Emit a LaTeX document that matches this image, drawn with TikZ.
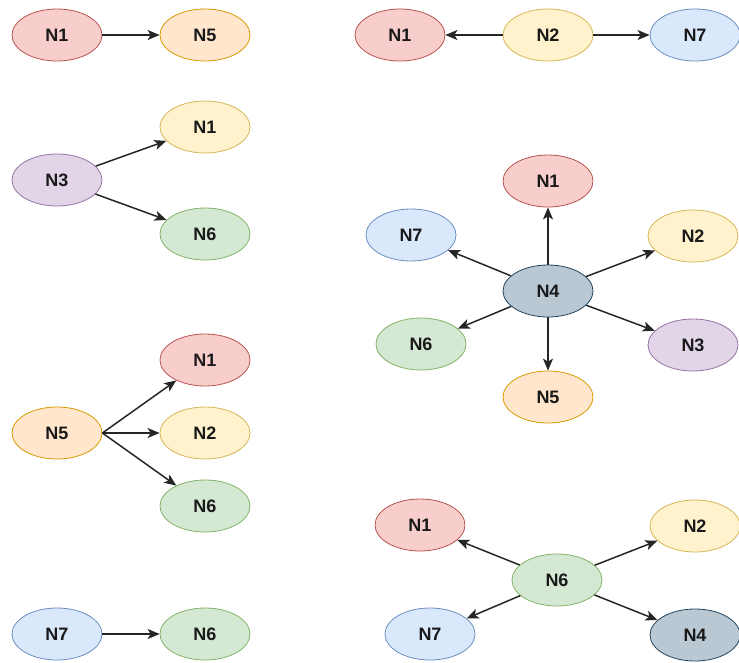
\documentclass[tikz,border=0pt]{standalone}
\usepackage{fontspec}
\setmainfont{Liberation Sans}
\usetikzlibrary{shapes.geometric,arrows.meta}
\definecolor{redF}{HTML}{F8CECC}\definecolor{redS}{HTML}{B85450}
\definecolor{yelF}{HTML}{FFF2CC}\definecolor{yelS}{HTML}{D6B656}
\definecolor{oraF}{HTML}{FFE6CC}\definecolor{oraS}{HTML}{D79B00}
\definecolor{bluF}{HTML}{DAE8FC}\definecolor{bluS}{HTML}{6C8EBF}
\definecolor{greF}{HTML}{D5E8D4}\definecolor{greS}{HTML}{82B366}
\definecolor{purF}{HTML}{E1D5E7}\definecolor{purS}{HTML}{9673A6}
\definecolor{darF}{HTML}{BAC8D3}\definecolor{darS}{HTML}{23445D}
\tikzset{
  nd/.style={ellipse, minimum width=90pt, minimum height=52pt, inner sep=0pt, line width=0.8pt, font=\fontsize{18}{18}\selectfont\bfseries, text=black!90},
  rd/.style={nd, fill=redF, draw=redS},
  yl/.style={nd, fill=yelF, draw=yelS},
  or/.style={nd, fill=oraF, draw=oraS},
  bl/.style={nd, fill=bluF, draw=bluS},
  gr/.style={nd, fill=greF, draw=greS},
  pu/.style={nd, fill=purF, draw=purS},
  dk/.style={nd, fill=darF, draw=darS},
  ar/.style={-{Stealth[length=12pt,width=10pt,inset=3pt]}, line width=1.5pt, draw=black!85},
}
\begin{document}
\begin{tikzpicture}[x=1pt,y=-1pt]
\useasboundingbox (0,0) rectangle (739,662);
% group 1
\node[rd] (a1) at (57,35) {N1};
\node[or] (a5) at (205,35) {N5};
\draw[ar] (a1) -- (a5);
% group 2
\node[rd] (b1) at (400,35) {N1};
\node[yl] (b2) at (548,35) {N2};
\node[bl] (b7) at (695,35) {N7};
\draw[ar] (b2) -- (b1);
\draw[ar] (b2) -- (b7);
% group 3
\node[pu] (c3) at (57,180) {N3};
\node[yl] (c1) at (205,127) {N1};
\node[gr] (c6) at (205,234) {N6};
\draw[ar] (c3) -- (c1);
\draw[ar] (c3) -- (c6);
% group 4 star
\node[dk] (d4) at (548,291) {N4};
\node[rd] (d1) at (548,181) {N1};
\node[bl] (d7) at (411,235) {N7};
\node[yl] (d2) at (693,236) {N2};
\node[gr] (d6) at (421,344) {N6};
\node[pu] (d3) at (693,345) {N3};
\node[or] (d5) at (548,397) {N5};
\draw[ar] (d4) -- (d1);
\draw[ar] (d4) -- (d7);
\draw[ar] (d4) -- (d2);
\draw[ar] (d4) -- (d6);
\draw[ar] (d4) -- (d3);
\draw[ar] (d4) -- (d5);
% group 5
\node[or] (e5) at (57,433) {N5};
\node[rd] (e1) at (205,360) {N1};
\node[yl] (e2) at (205,433) {N2};
\node[gr] (e6) at (205,506) {N6};
\draw[ar] (e5.east) -- (e1);
\draw[ar] (e5.east) -- (e2);
\draw[ar] (e5.east) -- (e6);
% group 6
\node[gr] (f6) at (557,580) {N6};
\node[rd] (f1) at (420,525) {N1};
\node[yl] (f2) at (695,526) {N2};
\node[bl] (f7) at (430,634) {N7};
\node[dk] (f4) at (695,635) {N4};
\draw[ar] (f6) -- (f1);
\draw[ar] (f6) -- (f2);
\draw[ar] (f6) -- (f7);
\draw[ar] (f6) -- (f4);
% group 7
\node[bl] (g7) at (57,634) {N7};
\node[gr] (g6) at (205,634) {N6};
\draw[ar] (g7) -- (g6);
\end{tikzpicture}
\end{document}
